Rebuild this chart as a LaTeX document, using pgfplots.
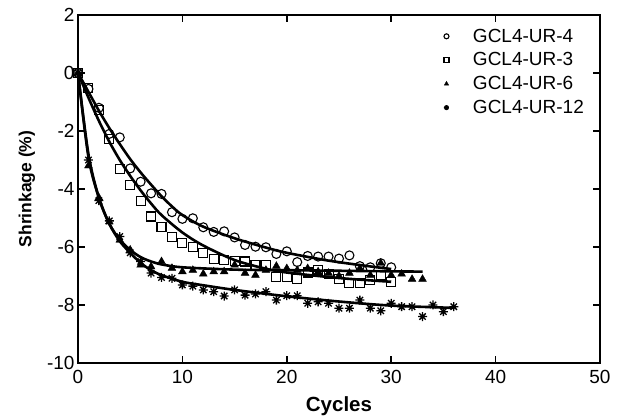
\documentclass[border=0pt]{standalone}
\usepackage{pgfplots}
\pgfplotsset{compat=1.18}
\usepackage{fontspec}
\setmainfont{Liberation Sans}
\pgfdeclareplotmark{ast8}{%
 \pgfpathmoveto{\pgfqpoint{-\pgfplotmarksize}{0pt}}\pgfpathlineto{\pgfqpoint{\pgfplotmarksize}{0pt}}%
 \pgfpathmoveto{\pgfqpoint{0pt}{-\pgfplotmarksize}}\pgfpathlineto{\pgfqpoint{0pt}{\pgfplotmarksize}}%
 \pgfpathmoveto{\pgfqpoint{-0.707\pgfplotmarksize}{-0.707\pgfplotmarksize}}\pgfpathlineto{\pgfqpoint{0.707\pgfplotmarksize}{0.707\pgfplotmarksize}}%
 \pgfpathmoveto{\pgfqpoint{-0.707\pgfplotmarksize}{0.707\pgfplotmarksize}}\pgfpathlineto{\pgfqpoint{0.707\pgfplotmarksize}{-0.707\pgfplotmarksize}}%
 \pgfusepathqstroke}
\begin{document}
\begin{tikzpicture}
\useasboundingbox (-78pt,-56pt) rectangle (541pt,363pt);
\begin{axis}[
 at={(0pt,0pt)}, anchor=south west,
 scale only axis, width=522pt, height=348pt,
 xmin=0, xmax=50, ymin=-10, ymax=2,
 xtick={0,10,...,50}, ytick={-10,-8,...,2},
 tick align=inside, major tick length=7pt,
 axis line style={line width=1.5pt},
 every tick/.style={line width=1.5pt, black},
 /pgf/number format/assume math mode=true,
 tick label style={font=\fontsize{19}{22}\selectfont},
 x tick label style={yshift=-4pt},
 xlabel={Cycles}, ylabel={Shrinkage (\%)},
 xlabel style={at={(axis description cs:0.5,-0.125)}, anchor=center, font=\fontsize{20.5}{22}\selectfont\bfseries},
 ylabel style={at={(axis description cs:-0.098,0.5)}, anchor=center, font=\fontsize{17.5}{20}\selectfont\bfseries},
 legend style={at={(axis description cs:0.695,0.972)}, anchor=north west, draw=none, fill=none,
   font=\fontsize{19}{22}\selectfont, column sep=22pt, row sep=5pt},
 legend cell align=left,
 legend image post style={mark size=2.5pt},
]
% fitted curves
\addplot[black, line width=2.6pt, smooth, forget plot] coordinates {
 (0,0) (1,-0.65) (2,-1.3) (3,-1.9) (4,-2.45) (5,-2.97) (6,-3.43) (7,-3.85) (8,-4.25) (9,-4.6) (10,-4.9)
 (12,-5.3) (15,-5.7) (18,-6.02) (20,-6.2) (24,-6.47) (28,-6.67) (30,-6.76)};
\addplot[black, line width=2.6pt, smooth, forget plot] coordinates {
 (0,0) (1,-0.85) (2,-1.65) (3,-2.37) (4,-3.0) (5,-3.55) (6,-4.05) (7,-4.5) (8,-4.9) (10,-5.5)
 (12,-5.95) (15,-6.45) (18,-6.75) (20,-6.88) (25,-7.07) (30,-7.2)};
\addplot[black, line width=2.6pt, smooth, forget plot] coordinates {
 (0,0) (1,-2.9) (2,-4.3) (3,-5.2) (4,-5.75) (5,-6.1) (6,-6.35) (7,-6.5) (8,-6.6) (10,-6.7)
 (15,-6.78) (20,-6.8) (25,-6.82) (33,-6.85)};
\addplot[black, line width=2.6pt, smooth, forget plot] coordinates {
 (0,0) (1,-2.8) (2,-4.3) (3,-5.2) (4,-5.8) (5,-6.2) (6,-6.55) (7,-6.8) (8,-6.97) (10,-7.2)
 (12,-7.32) (15,-7.48) (20,-7.7) (25,-7.88) (30,-8.02) (36,-8.1)};
% data
\addplot[only marks, mark=o, mark size=4.5pt, black, line width=1.1pt] coordinates {
 (0,0) (1,-0.55) (2,-1.2) (3,-2.1) (4,-2.22) (5,-3.29) (6,-3.75) (7,-4.15) (8,-4.17) (9,-4.8) (10,-5.03)
 (11,-5.01) (12,-5.32) (13,-5.48) (14,-5.46) (15,-5.67) (16,-5.93) (17,-5.99) (18,-6.01) (19,-6.24) (20,-6.15)
 (21,-6.52) (22,-6.31) (23,-6.33) (24,-6.33) (25,-6.4) (26,-6.29) (27,-6.66) (28,-6.7) (29,-6.56) (30,-6.7)};
\addlegendentry{GCL4-UR-4}
\addplot[only marks, mark=square, mark size=4.5pt, black, line width=1.1pt] coordinates {
 (0,0) (1,-0.53) (2,-1.28) (3,-2.27) (4,-3.3) (5,-3.86) (6,-4.41) (7,-4.95) (8,-5.3) (9,-5.67) (10,-5.85)
 (11,-6.0) (12,-6.2) (13,-6.42) (14,-6.45) (15,-6.47) (16,-6.5) (17,-6.62) (18,-6.62) (19,-7.02) (20,-7.02)
 (21,-7.09) (22,-6.88) (23,-6.79) (24,-6.93) (25,-7.09) (26,-7.23) (27,-7.25) (28,-7.14) (29,-6.97) (30,-7.2)};
\addlegendentry{GCL4-UR-3}
\addplot[only marks, mark=triangle*, mark size=4.5pt, black, fill=black] coordinates {
 (0,0) (1,-3.2) (2,-4.3) (3,-5.13) (4,-5.76) (5,-6.1) (6,-6.62) (7,-6.68) (8,-6.5) (9,-6.73) (10,-6.85)
 (11,-6.8) (12,-6.93) (13,-6.85) (14,-6.85) (15,-6.62) (16,-6.9) (17,-6.97) (18,-6.8) (19,-6.66) (20,-6.74)
 (21,-6.8) (22,-6.74) (23,-6.85) (24,-6.9) (25,-7.0) (26,-6.9) (27,-6.74) (28,-6.97) (29,-6.56) (30,-6.97)
 (31,-6.93) (32,-7.11) (33,-7.11)};
\addlegendentry{GCL4-UR-6}
\addplot[only marks, mark=ast8, mark size=4.5pt, black, line width=1.3pt] coordinates {
 (0,0) (1,-3.0) (2,-4.4) (3,-5.1) (4,-5.64) (5,-6.2) (6,-6.5) (7,-6.9) (8,-7.05) (9,-7.08) (10,-7.31)
 (11,-7.35) (12,-7.48) (13,-7.54) (14,-7.69) (15,-7.48) (16,-7.66) (17,-7.62) (18,-7.54) (19,-7.83) (20,-7.68)
 (21,-7.68) (22,-7.94) (23,-7.89) (24,-7.94) (25,-8.11) (26,-8.11) (27,-7.83) (28,-8.11) (29,-8.2) (30,-7.94)
 (31,-8.06) (32,-8.06) (33,-8.4) (34,-8.0) (35,-8.23) (36,-8.06)};
\addlegendentry{GCL4-UR-12}
\end{axis}
\end{tikzpicture}
\end{document}
